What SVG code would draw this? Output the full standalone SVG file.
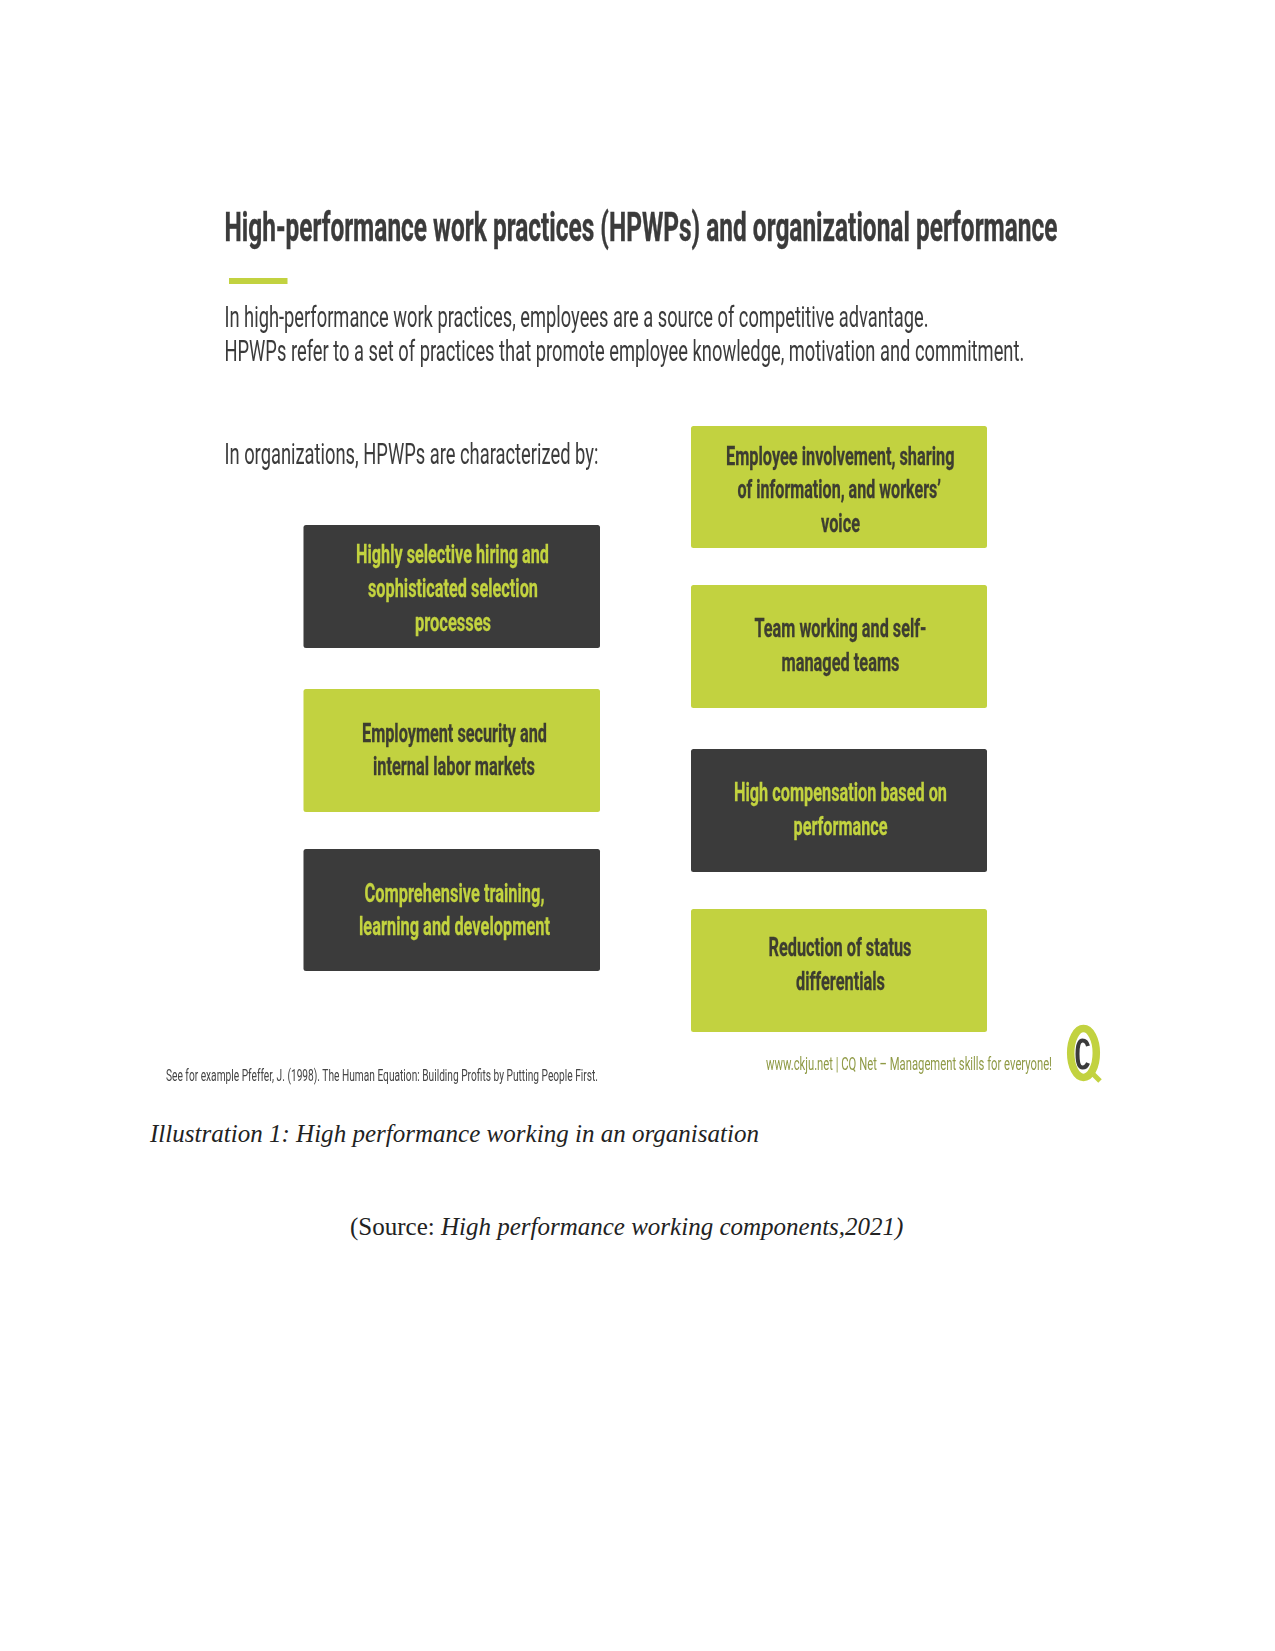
<svg xmlns="http://www.w3.org/2000/svg" width="1275" height="1651" viewBox="0 0 1275 1651">
  <style>
    text { font-family: Roboto, "Liberation Sans", sans-serif; }
    .title { font-size: 40px; font-weight: 700; fill: #3b3b3b; stroke: #3b3b3b; stroke-width: 0.4px; }
    .body { font-size: 30px; font-weight: 400; fill: #3b3b3b; }
    .label { font-size: 25px; font-weight: 700; stroke-width: 0.3px; }
    .on-lime { fill: #3d3d30; stroke: #3d3d30; }
    .on-dark { fill: #c3d33f; stroke: #c3d33f; }
    .lime { fill: #c2d23f; }
    .dark { fill: #3b3b3b; }
    .note { font-size: 16px; fill: #444444; }
    .web { font-size: 18px; fill: #8f9a45; }
    .caption { font-family: "Liberation Serif", "Times New Roman", serif; font-size: 25px; fill: #222222; }
    .it { font-style: italic; }
  </style>
  <defs>
    <filter id="soft" x="-5%" y="-5%" width="110%" height="110%">
      <feGaussianBlur stdDeviation="0.6"/>
    </filter>
  </defs>
  <rect width="1275" height="1651" fill="#ffffff"/>

  <g id="slide" filter="url(#soft)">
    <g id="heading">
      <text class="title" transform="translate(224.500 241) scale(0.65 1)" textLength="1281.500" lengthAdjust="spacingAndGlyphs">High-performance work practices (HPWPs) and organizational performance</text>
      <rect class="lime" x="229" y="278" width="58.500" height="6"/>
      <text class="body" transform="translate(224.500 327) scale(0.62 1)" textLength="1135.500" lengthAdjust="spacingAndGlyphs">In high-performance work practices, employees are a source of competitive advantage.</text>
      <text class="body" transform="translate(224.500 361) scale(0.62 1)" textLength="1290" lengthAdjust="spacingAndGlyphs">HPWPs refer to a set of practices that promote employee knowledge, motivation and commitment.</text>
      <text class="body" transform="translate(224.500 464) scale(0.62 1)" textLength="603" lengthAdjust="spacingAndGlyphs">In organizations, HPWPs are characterized by:</text>
    </g>

    <g id="node-hiring">
      <rect class="dark" x="303.500" y="525" width="296.500" height="123" rx="2.500"/>
      <text class="label on-dark" x="356" y="563" textLength="193" lengthAdjust="spacingAndGlyphs">Highly selective hiring and</text>
      <text class="label on-dark" x="368" y="596.500" textLength="170" lengthAdjust="spacingAndGlyphs">sophisticated selection</text>
      <text class="label on-dark" x="415" y="630.500" textLength="76" lengthAdjust="spacingAndGlyphs">processes</text>
    </g>
    <g id="node-security">
      <rect class="lime" x="303.500" y="689" width="296.500" height="123" rx="2.500"/>
      <text class="label on-lime" x="362" y="741.500" textLength="185" lengthAdjust="spacingAndGlyphs">Employment security and</text>
      <text class="label on-lime" x="373" y="775" textLength="162" lengthAdjust="spacingAndGlyphs">internal labor markets</text>
    </g>
    <g id="node-training">
      <rect class="dark" x="303.500" y="849" width="296.500" height="122" rx="2.500"/>
      <text class="label on-dark" x="364.500" y="901.500" textLength="180" lengthAdjust="spacingAndGlyphs">Comprehensive training,</text>
      <text class="label on-dark" x="359" y="935" textLength="191" lengthAdjust="spacingAndGlyphs">learning and development</text>
    </g>
    <g id="node-involvement">
      <rect class="lime" x="691" y="426" width="296" height="122" rx="2.500"/>
      <text class="label on-lime" x="726" y="464.500" textLength="228.500" lengthAdjust="spacingAndGlyphs">Employee involvement, sharing</text>
      <text class="label on-lime" x="737.500" y="498" textLength="203.500" lengthAdjust="spacingAndGlyphs">of information, and workers’</text>
      <text class="label on-lime" x="821" y="531.500" textLength="39" lengthAdjust="spacingAndGlyphs">voice</text>
    </g>
    <g id="node-teams">
      <rect class="lime" x="691" y="585" width="296" height="123" rx="2.500"/>
      <text class="label on-lime" x="754.500" y="637" textLength="172" lengthAdjust="spacingAndGlyphs">Team working and self-</text>
      <text class="label on-lime" x="781.500" y="671" textLength="118" lengthAdjust="spacingAndGlyphs">managed teams</text>
    </g>
    <g id="node-compensation">
      <rect class="dark" x="691" y="749" width="296" height="123" rx="2.500"/>
      <text class="label on-dark" x="734" y="801" textLength="213" lengthAdjust="spacingAndGlyphs">High compensation based on</text>
      <text class="label on-dark" x="793.500" y="835" textLength="94" lengthAdjust="spacingAndGlyphs">performance</text>
    </g>
    <g id="node-status">
      <rect class="lime" x="691" y="909" width="296" height="123" rx="2.500"/>
      <text class="label on-lime" x="768.500" y="956" textLength="143" lengthAdjust="spacingAndGlyphs">Reduction of status</text>
      <text class="label on-lime" x="796" y="990" textLength="89" lengthAdjust="spacingAndGlyphs">differentials</text>
    </g>

    <g id="connectors"></g>

    <g id="footer">
      <text class="note" x="166" y="1081" textLength="432" lengthAdjust="spacingAndGlyphs">See for example Pfeffer, J. (1998). The Human Equation: Building Profits by Putting People First.</text>
      <text class="web" x="766" y="1070" textLength="286" lengthAdjust="spacingAndGlyphs">www.ckju.net | CQ Net – Management skills for everyone!</text>
    </g>

    <g id="logo">
      <ellipse cx="1083.500" cy="1053" rx="12.800" ry="24.500" fill="none" stroke="#c2d23f" stroke-width="7.500"/>
      <path d="M1092 1073 L1100 1081" fill="none" stroke="#c2d23f" stroke-width="5"/>
      <path d="M1088 1046 C1087 1042 1085 1040.500 1082.500 1040.500 C1078.500 1040.500 1077.500 1047 1077.500 1054 C1077.500 1061 1078.500 1067.500 1082.500 1067.500 C1085 1067.500 1087 1066 1088 1063" fill="none" stroke="#3b3b3b" stroke-width="4"/>
    </g>
  </g>

  <g id="captions">
    <text class="caption it" x="150" y="1142" textLength="609">Illustration 1: High performance working in an organisation</text>
    <text class="caption" x="350" y="1235">(Source: <tspan class="it">High performance working components,2021)</tspan></text>
  </g>
</svg>
